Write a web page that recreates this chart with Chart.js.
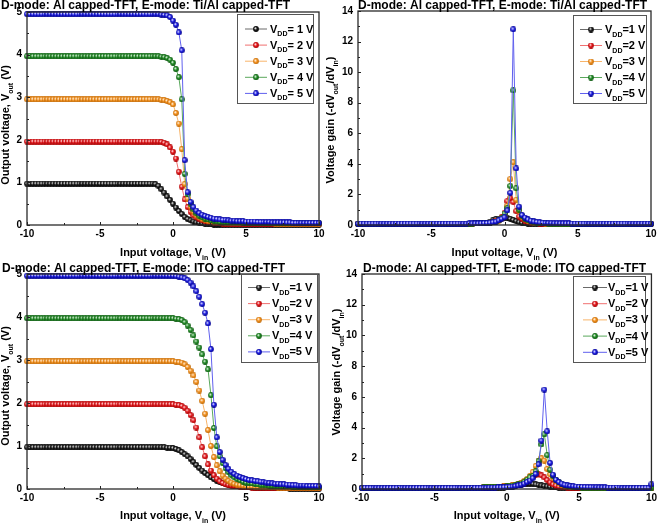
<!DOCTYPE html>
<html>
<head>
<meta charset="utf-8">
<title>Inverter transfer curves and voltage gain</title>
<script src="https://cdn.jsdelivr.net/npm/chart.js@4.4.1/dist/chart.umd.min.js"></script>
<style>
  body { margin: 0; background: #fff; }
  #wrap { position: relative; width: 660px; height: 525px; overflow: hidden; }
  canvas { position: absolute; }
</style>
</head>
<body>
<div id="wrap">
  <canvas id="vtcTiAl" width="330" height="262" style="left:0px;top:0px"></canvas>
  <canvas id="gainTiAl" width="342" height="262" style="left:318px;top:0px"></canvas>
  <canvas id="vtcIto" width="330" height="263" style="left:0px;top:262px"></canvas>
  <canvas id="gainIto" width="342" height="263" style="left:318px;top:262px"></canvas>
</div>
<script>
// input voltage sweep (V)
const vin = [
  -10, -9.8, -9.6, -9.4, -9.2, -9, -8.8, -8.6, -8.4, -8.2,
  -8, -7.8, -7.6, -7.4, -7.2, -7, -6.8, -6.6, -6.4, -6.2,
  -6, -5.8, -5.6, -5.4, -5.2, -5, -4.8, -4.6, -4.4, -4.2,
  -4, -3.8, -3.6, -3.4, -3.2, -3, -2.8, -2.6, -2.4, -2.2,
  -2, -1.8, -1.6, -1.4, -1.2, -1, -0.8, -0.6, -0.4, -0.2,
  0, 0.2, 0.4, 0.6, 0.8, 1, 1.2, 1.4, 1.6, 1.8,
  2, 2.2, 2.4, 2.6, 2.8, 3, 3.2, 3.4, 3.6, 3.8,
  4, 4.2, 4.4, 4.6, 4.8, 5, 5.2, 5.4, 5.6, 5.8,
  6, 6.2, 6.4, 6.6, 6.8, 7, 7.2, 7.4, 7.6, 7.8,
  8, 8.2, 8.4, 8.6, 8.8, 9, 9.2, 9.4, 9.6, 9.8,
  10
];

const vddLabels = ['1', '2', '3', '4', '5'];
const xTicks = [-10, -5, 0, 5, 10];
const voutTicks = [0, 1, 2, 3, 4, 5];
const gainTicks = [0, 2, 4, 6, 8, 10, 12, 14];

// E-mode Ti/Al capped TFT : Vout (V)
const voutTiAl1 = [
  0.97, 0.97, 0.97, 0.97, 0.97, 0.97, 0.97, 0.97, 0.97, 0.97,
  0.97, 0.97, 0.97, 0.97, 0.97, 0.97, 0.97, 0.97, 0.97, 0.97,
  0.97, 0.97, 0.97, 0.97, 0.97, 0.97, 0.97, 0.97, 0.97, 0.97,
  0.97, 0.97, 0.97, 0.97, 0.97, 0.97, 0.97, 0.97, 0.97, 0.97,
  0.97, 0.97, 0.97, 0.97, 0.96, 0.92, 0.84, 0.76, 0.67, 0.59,
  0.5, 0.41, 0.33, 0.26, 0.19, 0.14, 0.11, 0.08, 0.06, 0.05,
  0.04, 0.03, 0.02, 0.02, 0.01, 0.01, 0.01, 0.01, 0.01, 0.01,
  0.01, 0.01, 0.01, 0.01, 0.01, 0.01, 0.01, 0.01, 0.01, 0.01,
  0.01, 0.01, 0.01, 0.01, 0.01, 0.01, 0.01, 0.01, 0.01, 0.01,
  0.01, 0.01, 0.01, 0.01, 0.01, 0.01, 0.01, 0.01, 0.01, 0.01,
  0.01
];
const voutTiAl2 = [
  1.96, 1.96, 1.96, 1.96, 1.96, 1.96, 1.96, 1.96, 1.96, 1.96,
  1.96, 1.96, 1.96, 1.96, 1.96, 1.96, 1.96, 1.96, 1.96, 1.96,
  1.96, 1.96, 1.96, 1.96, 1.96, 1.96, 1.96, 1.96, 1.96, 1.96,
  1.96, 1.96, 1.96, 1.96, 1.96, 1.96, 1.96, 1.96, 1.96, 1.96,
  1.96, 1.96, 1.96, 1.96, 1.96, 1.96, 1.95, 1.93, 1.89, 1.82,
  1.72, 1.56, 1.25, 0.9, 0.6, 0.42, 0.31, 0.23, 0.18, 0.14,
  0.11, 0.09, 0.07, 0.06, 0.05, 0.04, 0.04, 0.03, 0.03, 0.03,
  0.02, 0.02, 0.02, 0.02, 0.02, 0.02, 0.02, 0.02, 0.02, 0.02,
  0.02, 0.02, 0.02, 0.02, 0.02, 0.02, 0.02, 0.02, 0.02, 0.02,
  0.02, 0.02, 0.02, 0.02, 0.02, 0.02, 0.02, 0.02, 0.02, 0.02,
  0.02
];
const voutTiAl3 = [
  2.95, 2.95, 2.95, 2.95, 2.95, 2.95, 2.95, 2.95, 2.95, 2.95,
  2.95, 2.95, 2.95, 2.95, 2.95, 2.95, 2.95, 2.95, 2.95, 2.95,
  2.95, 2.95, 2.95, 2.95, 2.95, 2.95, 2.95, 2.95, 2.95, 2.95,
  2.95, 2.95, 2.95, 2.95, 2.95, 2.95, 2.95, 2.95, 2.95, 2.95,
  2.95, 2.95, 2.95, 2.95, 2.95, 2.95, 2.94, 2.93, 2.91, 2.88,
  2.83, 2.63, 2.38, 1.78, 0.96, 0.62, 0.43, 0.31, 0.23, 0.18,
  0.14, 0.12, 0.1, 0.09, 0.08, 0.07, 0.06, 0.06, 0.05, 0.05,
  0.04, 0.04, 0.04, 0.04, 0.04, 0.04, 0.04, 0.04, 0.04, 0.04,
  0.04, 0.04, 0.04, 0.04, 0.04, 0.03, 0.03, 0.03, 0.03, 0.03,
  0.03, 0.03, 0.03, 0.03, 0.03, 0.03, 0.03, 0.03, 0.03, 0.03,
  0.03
];
const voutTiAl4 = [
  3.96, 3.96, 3.96, 3.96, 3.96, 3.96, 3.96, 3.96, 3.96, 3.96,
  3.96, 3.96, 3.96, 3.96, 3.96, 3.96, 3.96, 3.96, 3.96, 3.96,
  3.96, 3.96, 3.96, 3.96, 3.96, 3.96, 3.96, 3.96, 3.96, 3.96,
  3.96, 3.96, 3.96, 3.96, 3.96, 3.96, 3.96, 3.96, 3.96, 3.96,
  3.96, 3.96, 3.96, 3.96, 3.96, 3.96, 3.95, 3.94, 3.92, 3.88,
  3.81, 3.66, 3.47, 2.95, 1.2, 0.72, 0.5, 0.37, 0.28, 0.22,
  0.18, 0.15, 0.13, 0.11, 0.1, 0.09, 0.08, 0.08, 0.07, 0.07,
  0.06, 0.06, 0.06, 0.06, 0.05, 0.05, 0.05, 0.05, 0.05, 0.05,
  0.05, 0.05, 0.05, 0.05, 0.05, 0.05, 0.05, 0.05, 0.05, 0.05,
  0.04, 0.04, 0.04, 0.04, 0.04, 0.04, 0.04, 0.04, 0.04, 0.04,
  0.04
];
const voutTiAl5 = [
  4.95, 4.95, 4.95, 4.95, 4.95, 4.95, 4.95, 4.95, 4.95, 4.95,
  4.95, 4.95, 4.95, 4.95, 4.95, 4.95, 4.95, 4.95, 4.95, 4.95,
  4.95, 4.95, 4.95, 4.95, 4.95, 4.95, 4.95, 4.95, 4.95, 4.95,
  4.95, 4.95, 4.95, 4.95, 4.95, 4.95, 4.95, 4.95, 4.95, 4.95,
  4.95, 4.95, 4.95, 4.95, 4.95, 4.95, 4.94, 4.93, 4.92, 4.88,
  4.8, 4.7, 4.52, 4.1, 1.52, 0.77, 0.54, 0.42, 0.34, 0.28,
  0.24, 0.21, 0.19, 0.17, 0.15, 0.14, 0.13, 0.12, 0.12, 0.11,
  0.1, 0.1, 0.09, 0.09, 0.09, 0.08, 0.08, 0.08, 0.08, 0.07,
  0.07, 0.07, 0.07, 0.07, 0.06, 0.06, 0.06, 0.06, 0.06, 0.06,
  0.06, 0.05, 0.05, 0.05, 0.05, 0.05, 0.05, 0.05, 0.05, 0.05,
  0.05
];

// E-mode Ti/Al capped TFT : gain (-dVout/dVin)
const gainTiAl1 = [
  0.07, 0.07, 0.07, 0.07, 0.07, 0.07, 0.07, 0.07, 0.07, 0.07,
  0.07, 0.07, 0.07, 0.07, 0.07, 0.07, 0.07, 0.07, 0.07, 0.07,
  0.07, 0.07, 0.07, 0.07, 0.07, 0.07, 0.07, 0.07, 0.07, 0.07,
  0.07, 0.07, 0.07, 0.07, 0.07, 0.08, 0.08, 0.08, 0.09, 0.09,
  0.1, 0.1, 0.11, 0.12, 0.15, 0.22, 0.3, 0.38, 0.42, 0.45,
  0.47, 0.45, 0.4, 0.33, 0.25, 0.18, 0.14, 0.11, 0.09, 0.08,
  0.07, 0.07, 0.07, 0.07, 0.07, 0.07, 0.07, 0.07, 0.07, 0.07,
  0.07, 0.07, 0.07, 0.07, 0.07, 0.07, 0.07, 0.07, 0.07, 0.07,
  0.07, 0.07, 0.07, 0.07, 0.07, 0.07, 0.07, 0.07, 0.07, 0.07,
  0.07, 0.07, 0.07, 0.07, 0.07, 0.07, 0.07, 0.07, 0.07, 0.07,
  0.07
];
const gainTiAl2 = [
  0.08, 0.08, 0.08, 0.08, 0.08, 0.08, 0.08, 0.08, 0.08, 0.08,
  0.08, 0.08, 0.08, 0.08, 0.08, 0.08, 0.08, 0.08, 0.08, 0.08,
  0.08, 0.08, 0.08, 0.08, 0.08, 0.08, 0.08, 0.08, 0.08, 0.08,
  0.08, 0.08, 0.08, 0.08, 0.08, 0.08, 0.08, 0.08, 0.09, 0.09,
  0.1, 0.1, 0.11, 0.12, 0.13, 0.15, 0.2, 0.27, 0.35, 0.5,
  0.8, 1.55, 1.75, 1.5, 0.9, 0.55, 0.4, 0.28, 0.2, 0.15,
  0.12, 0.1, 0.09, 0.08, 0.08, 0.08, 0.08, 0.08, 0.08, 0.08,
  0.08, 0.08, 0.08, 0.08, 0.08, 0.08, 0.08, 0.08, 0.08, 0.08,
  0.08, 0.08, 0.08, 0.08, 0.08, 0.08, 0.08, 0.08, 0.08, 0.08,
  0.08, 0.08, 0.08, 0.08, 0.08, 0.08, 0.08, 0.08, 0.08, 0.08,
  0.08
];
const gainTiAl3 = [
  0.08, 0.08, 0.08, 0.08, 0.08, 0.08, 0.08, 0.08, 0.08, 0.08,
  0.08, 0.08, 0.08, 0.08, 0.08, 0.08, 0.08, 0.08, 0.08, 0.08,
  0.08, 0.08, 0.08, 0.08, 0.08, 0.08, 0.08, 0.08, 0.08, 0.08,
  0.08, 0.08, 0.08, 0.08, 0.08, 0.08, 0.08, 0.08, 0.09, 0.09,
  0.1, 0.1, 0.11, 0.12, 0.13, 0.15, 0.18, 0.22, 0.28, 0.4,
  0.6, 1.25, 3.0, 4.1, 1.65, 0.9, 0.55, 0.38, 0.27, 0.2,
  0.16, 0.13, 0.11, 0.1, 0.09, 0.09, 0.08, 0.08, 0.08, 0.08,
  0.08, 0.08, 0.08, 0.08, 0.08, 0.08, 0.08, 0.08, 0.08, 0.08,
  0.08, 0.08, 0.08, 0.08, 0.08, 0.08, 0.08, 0.08, 0.08, 0.08,
  0.08, 0.08, 0.08, 0.08, 0.08, 0.08, 0.08, 0.08, 0.08, 0.08,
  0.08
];
const gainTiAl4 = [
  0.08, 0.08, 0.08, 0.08, 0.08, 0.08, 0.08, 0.08, 0.08, 0.08,
  0.08, 0.08, 0.08, 0.08, 0.08, 0.08, 0.08, 0.08, 0.08, 0.08,
  0.08, 0.08, 0.08, 0.08, 0.08, 0.08, 0.08, 0.08, 0.08, 0.08,
  0.08, 0.08, 0.08, 0.08, 0.08, 0.08, 0.08, 0.08, 0.09, 0.09,
  0.1, 0.1, 0.11, 0.12, 0.13, 0.15, 0.18, 0.22, 0.3, 0.45,
  0.75, 1.1, 2.55, 8.8, 2.4, 1.0, 0.6, 0.42, 0.3, 0.23,
  0.18, 0.15, 0.13, 0.11, 0.1, 0.09, 0.09, 0.08, 0.08, 0.08,
  0.08, 0.08, 0.08, 0.08, 0.08, 0.08, 0.08, 0.08, 0.08, 0.08,
  0.08, 0.08, 0.08, 0.08, 0.08, 0.08, 0.08, 0.08, 0.08, 0.08,
  0.08, 0.08, 0.08, 0.08, 0.08, 0.08, 0.08, 0.08, 0.08, 0.08,
  0.08
];
const gainTiAl5 = [
  0.09, 0.09, 0.09, 0.09, 0.09, 0.09, 0.09, 0.09, 0.09, 0.09,
  0.09, 0.09, 0.09, 0.09, 0.09, 0.09, 0.09, 0.09, 0.09, 0.09,
  0.09, 0.09, 0.09, 0.09, 0.09, 0.09, 0.09, 0.09, 0.09, 0.09,
  0.09, 0.09, 0.09, 0.09, 0.09, 0.09, 0.09, 0.09, 0.1, 0.1,
  0.1, 0.1, 0.11, 0.12, 0.13, 0.15, 0.18, 0.22, 0.3, 0.4,
  0.5, 0.95, 2.1, 12.8, 3.7, 1.2, 0.65, 0.48, 0.36, 0.28,
  0.23, 0.2, 0.17, 0.15, 0.14, 0.13, 0.12, 0.11, 0.11, 0.1,
  0.1, 0.1, 0.1, 0.09, 0.09, 0.09, 0.09, 0.09, 0.09, 0.09,
  0.09, 0.09, 0.09, 0.09, 0.09, 0.09, 0.09, 0.09, 0.09, 0.09,
  0.09, 0.09, 0.09, 0.09, 0.09, 0.09, 0.09, 0.09, 0.09, 0.09,
  0.09
];

// E-mode ITO capped TFT : Vout (V)
const voutIto1 = [
  0.97, 0.97, 0.97, 0.97, 0.97, 0.97, 0.97, 0.97, 0.97, 0.97,
  0.97, 0.97, 0.97, 0.97, 0.97, 0.97, 0.97, 0.97, 0.97, 0.97,
  0.97, 0.97, 0.97, 0.97, 0.97, 0.97, 0.97, 0.97, 0.97, 0.97,
  0.97, 0.97, 0.97, 0.97, 0.97, 0.97, 0.97, 0.97, 0.97, 0.97,
  0.97, 0.97, 0.97, 0.97, 0.97, 0.97, 0.97, 0.97, 0.96, 0.96,
  0.95, 0.93, 0.9, 0.86, 0.81, 0.76, 0.7, 0.63, 0.56, 0.49,
  0.43, 0.37, 0.32, 0.27, 0.23, 0.19, 0.16, 0.14, 0.12, 0.1,
  0.09, 0.08, 0.07, 0.06, 0.05, 0.05, 0.04, 0.04, 0.03, 0.03,
  0.03, 0.03, 0.02, 0.02, 0.02, 0.02, 0.02, 0.02, 0.02, 0.02,
  0.01, 0.01, 0.01, 0.01, 0.01, 0.01, 0.01, 0.01, 0.01, 0.01,
  0.01
];
const voutIto2 = [
  1.97, 1.97, 1.97, 1.97, 1.97, 1.97, 1.97, 1.97, 1.97, 1.97,
  1.97, 1.97, 1.97, 1.97, 1.97, 1.97, 1.97, 1.97, 1.97, 1.97,
  1.97, 1.97, 1.97, 1.97, 1.97, 1.97, 1.97, 1.97, 1.97, 1.97,
  1.97, 1.97, 1.97, 1.97, 1.97, 1.97, 1.97, 1.97, 1.97, 1.97,
  1.97, 1.97, 1.97, 1.97, 1.97, 1.97, 1.97, 1.97, 1.97, 1.97,
  1.97, 1.96, 1.95, 1.93, 1.89, 1.82, 1.72, 1.6, 1.43, 1.2,
  0.97, 0.76, 0.57, 0.43, 0.32, 0.24, 0.18, 0.14, 0.11, 0.09,
  0.08, 0.07, 0.06, 0.05, 0.05, 0.04, 0.04, 0.03, 0.03, 0.03,
  0.03, 0.03, 0.02, 0.02, 0.02, 0.02, 0.02, 0.02, 0.02, 0.02,
  0.02, 0.02, 0.02, 0.02, 0.02, 0.02, 0.02, 0.02, 0.02, 0.02,
  0.02
];
const voutIto3 = [
  2.97, 2.97, 2.97, 2.97, 2.97, 2.97, 2.97, 2.97, 2.97, 2.97,
  2.97, 2.97, 2.97, 2.97, 2.97, 2.97, 2.97, 2.97, 2.97, 2.97,
  2.97, 2.97, 2.97, 2.97, 2.97, 2.97, 2.97, 2.97, 2.97, 2.97,
  2.97, 2.97, 2.97, 2.97, 2.97, 2.97, 2.97, 2.97, 2.97, 2.97,
  2.97, 2.97, 2.97, 2.97, 2.97, 2.97, 2.97, 2.97, 2.97, 2.97,
  2.97, 2.96, 2.95, 2.94, 2.9, 2.84, 2.75, 2.64, 2.49, 2.29,
  2.05, 1.75, 1.37, 1.0, 0.74, 0.55, 0.41, 0.31, 0.24, 0.19,
  0.15, 0.12, 0.1, 0.09, 0.08, 0.07, 0.06, 0.06, 0.05, 0.05,
  0.05, 0.04, 0.04, 0.04, 0.04, 0.04, 0.03, 0.03, 0.03, 0.03,
  0.03, 0.03, 0.03, 0.03, 0.03, 0.03, 0.03, 0.03, 0.03, 0.03,
  0.03
];
const voutIto4 = [
  3.97, 3.97, 3.97, 3.97, 3.97, 3.97, 3.97, 3.97, 3.97, 3.97,
  3.97, 3.97, 3.97, 3.97, 3.97, 3.97, 3.97, 3.97, 3.97, 3.97,
  3.97, 3.97, 3.97, 3.97, 3.97, 3.97, 3.97, 3.97, 3.97, 3.97,
  3.97, 3.97, 3.97, 3.97, 3.97, 3.97, 3.97, 3.97, 3.97, 3.97,
  3.97, 3.97, 3.97, 3.97, 3.97, 3.97, 3.97, 3.97, 3.97, 3.97,
  3.97, 3.96, 3.95, 3.93, 3.88, 3.8, 3.7, 3.57, 3.43, 3.29,
  3.13, 2.96, 2.78, 2.18, 1.42, 0.99, 0.76, 0.6, 0.48, 0.39,
  0.32, 0.27, 0.23, 0.2, 0.17, 0.15, 0.14, 0.13, 0.12, 0.11,
  0.1, 0.09, 0.09, 0.08, 0.08, 0.07, 0.07, 0.07, 0.06, 0.06,
  0.06, 0.05, 0.05, 0.05, 0.05, 0.05, 0.04, 0.04, 0.04, 0.04,
  0.04
];
const voutIto5 = [
  4.96, 4.96, 4.96, 4.96, 4.96, 4.96, 4.96, 4.96, 4.96, 4.96,
  4.96, 4.96, 4.96, 4.96, 4.96, 4.96, 4.96, 4.96, 4.96, 4.96,
  4.96, 4.96, 4.96, 4.96, 4.96, 4.96, 4.96, 4.96, 4.96, 4.96,
  4.96, 4.96, 4.96, 4.96, 4.96, 4.96, 4.96, 4.96, 4.96, 4.96,
  4.96, 4.96, 4.96, 4.96, 4.96, 4.96, 4.96, 4.96, 4.96, 4.96,
  4.96, 4.95, 4.94, 4.92, 4.9, 4.86, 4.8, 4.71, 4.6, 4.47,
  4.3, 4.1, 3.85, 3.25, 1.96, 1.2, 0.86, 0.68, 0.56, 0.47,
  0.4, 0.35, 0.31, 0.28, 0.25, 0.23, 0.21, 0.2, 0.19, 0.18,
  0.17, 0.16, 0.15, 0.14, 0.13, 0.12, 0.12, 0.11, 0.11, 0.1,
  0.1, 0.09, 0.09, 0.08, 0.08, 0.08, 0.07, 0.07, 0.07, 0.07,
  0.06
];

// E-mode ITO capped TFT : gain (-dVout/dVin)
const gainIto1 = [
  0.07, 0.07, 0.07, 0.07, 0.07, 0.07, 0.07, 0.07, 0.07, 0.07,
  0.07, 0.07, 0.07, 0.07, 0.07, 0.07, 0.07, 0.07, 0.07, 0.07,
  0.07, 0.07, 0.07, 0.07, 0.07, 0.07, 0.07, 0.07, 0.07, 0.07,
  0.07, 0.07, 0.07, 0.07, 0.07, 0.07, 0.07, 0.07, 0.07, 0.07,
  0.07, 0.07, 0.07, 0.07, 0.08, 0.08, 0.08, 0.08, 0.09, 0.09,
  0.1, 0.12, 0.15, 0.2, 0.25, 0.28, 0.32, 0.35, 0.35, 0.33,
  0.3, 0.27, 0.23, 0.2, 0.17, 0.15, 0.12, 0.1, 0.09, 0.08,
  0.08, 0.07, 0.07, 0.07, 0.07, 0.07, 0.07, 0.07, 0.07, 0.07,
  0.07, 0.07, 0.07, 0.07, 0.07, 0.07, 0.07, 0.07, 0.07, 0.07,
  0.07, 0.07, 0.07, 0.07, 0.07, 0.07, 0.07, 0.07, 0.07, 0.07,
  0.07
];
const gainIto2 = [
  0.08, 0.08, 0.08, 0.08, 0.08, 0.08, 0.08, 0.08, 0.08, 0.08,
  0.08, 0.08, 0.08, 0.08, 0.08, 0.08, 0.08, 0.08, 0.08, 0.08,
  0.08, 0.08, 0.08, 0.08, 0.08, 0.08, 0.08, 0.08, 0.08, 0.08,
  0.08, 0.08, 0.08, 0.08, 0.08, 0.08, 0.08, 0.08, 0.08, 0.08,
  0.08, 0.09, 0.1, 0.1, 0.11, 0.12, 0.13, 0.14, 0.16, 0.18,
  0.2, 0.21, 0.23, 0.26, 0.3, 0.38, 0.48, 0.6, 0.72, 0.82,
  0.9, 0.95, 0.88, 0.75, 0.58, 0.42, 0.3, 0.22, 0.16, 0.12,
  0.1, 0.09, 0.08, 0.08, 0.08, 0.08, 0.08, 0.08, 0.08, 0.08,
  0.08, 0.08, 0.08, 0.08, 0.08, 0.08, 0.08, 0.08, 0.08, 0.08,
  0.08, 0.08, 0.08, 0.08, 0.08, 0.08, 0.08, 0.08, 0.08, 0.08,
  0.08
];
const gainIto3 = [
  0.08, 0.08, 0.08, 0.08, 0.08, 0.08, 0.08, 0.08, 0.08, 0.08,
  0.08, 0.08, 0.08, 0.08, 0.08, 0.08, 0.08, 0.08, 0.08, 0.08,
  0.08, 0.08, 0.08, 0.08, 0.08, 0.08, 0.08, 0.08, 0.08, 0.08,
  0.08, 0.08, 0.08, 0.08, 0.08, 0.08, 0.08, 0.08, 0.08, 0.08,
  0.08, 0.09, 0.1, 0.1, 0.11, 0.12, 0.13, 0.14, 0.16, 0.18,
  0.2, 0.22, 0.25, 0.28, 0.33, 0.4, 0.5, 0.65, 0.85, 1.1,
  1.5, 1.85, 2.0, 1.85, 1.3, 0.95, 0.7, 0.5, 0.36, 0.27,
  0.2, 0.17, 0.14, 0.12, 0.11, 0.1, 0.09, 0.09, 0.08, 0.08,
  0.08, 0.08, 0.08, 0.08, 0.08, 0.08, 0.08, 0.08, 0.08, 0.08,
  0.08, 0.08, 0.08, 0.08, 0.08, 0.08, 0.08, 0.08, 0.08, 0.08,
  0.08
];
const gainIto4 = [
  0.08, 0.08, 0.08, 0.08, 0.08, 0.08, 0.08, 0.08, 0.08, 0.08,
  0.08, 0.08, 0.08, 0.08, 0.08, 0.08, 0.08, 0.08, 0.08, 0.08,
  0.08, 0.08, 0.08, 0.08, 0.08, 0.08, 0.08, 0.08, 0.08, 0.08,
  0.08, 0.08, 0.08, 0.08, 0.08, 0.08, 0.08, 0.08, 0.08, 0.08,
  0.08, 0.09, 0.1, 0.1, 0.11, 0.12, 0.13, 0.14, 0.15, 0.16,
  0.18, 0.2, 0.22, 0.25, 0.3, 0.35, 0.45, 0.6, 0.75, 0.85,
  1.15, 1.8, 2.9, 3.55, 2.2, 1.25, 0.85, 0.6, 0.45, 0.33,
  0.26, 0.21, 0.17, 0.14, 0.12, 0.1, 0.09, 0.09, 0.08, 0.08,
  0.08, 0.08, 0.08, 0.08, 0.08, 0.08, 0.08, 0.08, 0.08, 0.08,
  0.08, 0.08, 0.08, 0.08, 0.08, 0.08, 0.08, 0.08, 0.08, 0.08,
  0.08
];
const gainIto5 = [
  0.08, 0.08, 0.08, 0.08, 0.08, 0.08, 0.08, 0.08, 0.08, 0.08,
  0.08, 0.08, 0.08, 0.08, 0.08, 0.08, 0.08, 0.08, 0.08, 0.08,
  0.08, 0.08, 0.08, 0.08, 0.08, 0.08, 0.08, 0.08, 0.08, 0.08,
  0.08, 0.08, 0.08, 0.08, 0.08, 0.08, 0.08, 0.08, 0.08, 0.08,
  0.08, 0.08, 0.08, 0.08, 0.09, 0.09, 0.09, 0.1, 0.1, 0.11,
  0.12, 0.14, 0.16, 0.19, 0.23, 0.28, 0.35, 0.45, 0.55, 0.7,
  0.98, 1.6, 3.15, 6.47, 3.75, 1.7, 0.93, 0.6, 0.45, 0.35,
  0.28, 0.24, 0.2, 0.18, 0.16, 0.15, 0.14, 0.13, 0.12, 0.12,
  0.11, 0.11, 0.1, 0.1, 0.1, 0.09, 0.09, 0.09, 0.09, 0.09,
  0.08, 0.08, 0.08, 0.08, 0.08, 0.08, 0.08, 0.08, 0.08, 0.08,
  0.3
];

// styling
const ballColors = ['#1a1a1a', '#e8161b', '#f7931e', '#1f8d24', '#1a1ae6'];
const ballDark = ['#000000', '#9a0000', '#b35f00', '#0b4f0e', '#00007a'];
const lineColors = ['#6a6a6a', '#f07070', '#f8b46a', '#5aa85c', '#6060ee'];
const FONT = '"Liberation Sans", Arial, sans-serif';

function sphere(base, dark) {
  const c = document.createElement('canvas');
  c.width = 6;
  c.height = 6;
  const g = c.getContext('2d');
  const grad = g.createRadialGradient(2.2, 2.1, 0.2, 3, 3, 3.2);
  grad.addColorStop(0, '#ffffff');
  grad.addColorStop(0.45, base);
  grad.addColorStop(1, dark);
  g.fillStyle = grad;
  g.beginPath();
  g.arc(3, 3, 2.9, 0, Math.PI * 2);
  g.fill();
  return c;
}
const balls = ballColors.map((c, i) => sphere(c, ballDark[i]));

// text with subscripts: parts = [[text, isSub], ...]
function richText(ctx, parts, x, y, size, align) {
  const sub = Math.round(size * 0.62);
  let w = 0;
  parts.forEach(p => {
    ctx.font = 'bold ' + (p[1] ? sub : size) + 'px ' + FONT;
    w += ctx.measureText(p[0]).width;
  });
  let cx = align === 'center' ? x - w / 2 : x;
  ctx.textAlign = 'left';
  ctx.textBaseline = 'alphabetic';
  parts.forEach(p => {
    ctx.font = 'bold ' + (p[1] ? sub : size) + 'px ' + FONT;
    ctx.fillText(p[0], cx, y + (p[1] ? size * 0.32 : 0));
    cx += ctx.measureText(p[0]).width;
  });
}

const xTitle = [['Input voltage, V', 0], ['in', 1], [' (V)', 0]];
const voutTitle = [['Output voltage, V', 0], ['out', 1], [' (V)', 0]];
const gainTitle = [['Voltage gain (-dV', 0], ['out', 1], ['/dV', 0], ['in', 1], [')', 0]];

function panel(p) {
  const canvas = document.getElementById(p.id);
  const ox = p.left, oy = p.top;
  const W = canvas.width, H = canvas.height;

  const decor = {
    id: 'decor',
    afterDraw(chart) {
      const ctx = chart.ctx, a = chart.chartArea;
      const xs = chart.scales.x, ys = chart.scales.y;
      ctx.save();
      ctx.fillStyle = '#000';
      ctx.strokeStyle = '#222';

      // inward ticks, major and minor
      ctx.lineWidth = 1;
      ctx.beginPath();
      xTicks.forEach((v, i) => {
        const px = Math.round(xs.getPixelForValue(v)) + 0.5;
        ctx.moveTo(px, a.bottom);
        ctx.lineTo(px, a.bottom - 3);
        if (i < xTicks.length - 1) {
          const mx = Math.round(xs.getPixelForValue((v + xTicks[i + 1]) / 2)) + 0.5;
          ctx.moveTo(mx, a.bottom);
          ctx.lineTo(mx, a.bottom - 2);
        }
      });
      p.yTicks.forEach((v, i) => {
        const py = Math.round(ys.getPixelForValue(v)) + 0.5;
        ctx.moveTo(a.left, py);
        ctx.lineTo(a.left + 3, py);
        if (i < p.yTicks.length - 1) {
          const my = Math.round(ys.getPixelForValue((v + p.yTicks[i + 1]) / 2)) + 0.5;
          ctx.moveTo(a.left, my);
          ctx.lineTo(a.left + 2, my);
        }
      });
      ctx.stroke();

      // frame
      ctx.lineWidth = 1.3;
      ctx.strokeStyle = '#2a2a2a';
      ctx.strokeRect(a.left, a.top, a.right - a.left, a.bottom - a.top);

      // title
      ctx.font = 'bold 12px ' + FONT;
      ctx.textAlign = 'left';
      ctx.textBaseline = 'alphabetic';
      ctx.fillText(p.title, p.titleX - ox, p.titleY - oy);

      // axis titles
      richText(ctx, xTitle, (a.left + a.right) / 2, p.xTitleY - oy, 11, 'center');
      ctx.save();
      ctx.translate(p.yTitleX - ox, p.yTitleY - oy);
      ctx.rotate(-Math.PI / 2);
      richText(ctx, p.yTitle, 0, 0, 11, 'center');
      ctx.restore();

      // legend
      const L = p.legend;
      ctx.fillStyle = '#fff';
      ctx.fillRect(L.x - ox, L.y - oy, L.w, L.h);
      ctx.lineWidth = 1;
      ctx.strokeStyle = '#555';
      ctx.strokeRect(L.x - ox + 0.5, L.y - oy + 0.5, L.w, L.h);
      vddLabels.forEach((v, i) => {
        const y = L.y0 + i * L.dy - oy;
        ctx.strokeStyle = lineColors[i];
        ctx.beginPath();
        ctx.moveTo(L.lx0 - ox, y + 0.5);
        ctx.lineTo(L.lx1 - ox, y + 0.5);
        ctx.stroke();
        const cx = (L.lx0 + L.lx1) / 2 - ox;
        ctx.drawImage(balls[i], cx - 3, y - 2.5);
        ctx.fillStyle = '#000';
        richText(ctx, [['V', 0], ['DD', 1], [L.sep + v + ' V', 0]], L.tx - ox, y + 4, 11, 'left');
      });
      ctx.restore();
    }
  };

  const tickFont = { family: FONT, size: 10, weight: 'bold' };

  new Chart(canvas, {
    type: 'line',
    data: {
      datasets: p.series.map((s, i) => ({
        label: 'VDD=' + vddLabels[i] + ' V',
        data: vin.map((v, k) => ({ x: v, y: s[k] })),
        borderColor: lineColors[i],
        backgroundColor: ballColors[i],
        borderWidth: 1,
        pointStyle: balls[i],
        pointRadius: 3,
        order: 5 - i,
        clip: 4
      }))
    },
    options: {
      responsive: false,
      animation: false,
      events: [],
      layout: { padding: { left: 0, top: p.area.T - oy, right: ox + W - p.area.R, bottom: 0 } },
      plugins: { legend: { display: false }, tooltip: { enabled: false } },
      scales: {
        x: {
          type: 'linear',
          min: -10,
          max: 10,
          afterBuildTicks: s => { s.ticks = xTicks.map(v => ({ value: v })); },
          afterFit: s => { s.height = oy + H - p.area.B; },
          grid: { display: false, drawTicks: false },
          border: { display: false },
          ticks: { color: '#000', padding: 3, maxRotation: 0, autoSkip: false, font: tickFont }
        },
        y: {
          type: 'linear',
          min: 0,
          max: p.yMax,
          afterBuildTicks: s => { s.ticks = p.yTicks.map(v => ({ value: v })); },
          afterFit: s => { s.width = p.area.L - ox; },
          grid: { display: false, drawTicks: false },
          border: { display: false },
          ticks: { color: '#000', padding: 5, font: tickFont }
        }
      }
    },
    plugins: [decor]
  });
}

panel({
  id: 'vtcTiAl', left: 0, top: 0,
  area: { L: 27, T: 12, R: 319, B: 225 },
  series: [voutTiAl1, voutTiAl2, voutTiAl3, voutTiAl4, voutTiAl5],
  yMax: 5, yTicks: voutTicks, yTitle: voutTitle,
  title: 'D-mode: Al capped-TFT, E-mode: Ti/Al capped-TFT', titleX: 1, titleY: 8.5,
  xTitleY: 256, yTitleX: 9, yTitleY: 125,
  legend: { x: 237, y: 14, w: 76, h: 89, y0: 28.5, dy: 16.1, lx0: 245, lx1: 267, tx: 270, sep: '= ' }
});

panel({
  id: 'gainTiAl', left: 318, top: 0,
  area: { L: 358, T: 11, R: 651, B: 225 },
  series: [gainTiAl1, gainTiAl2, gainTiAl3, gainTiAl4, gainTiAl5],
  yMax: 14, yTicks: gainTicks, yTitle: gainTitle,
  title: 'D-mode: Al capped-TFT, E-mode: Ti/Al capped-TFT', titleX: 358, titleY: 8.5,
  xTitleY: 256, yTitleX: 334, yTitleY: 120,
  legend: { x: 573, y: 15, w: 73, h: 88, y0: 29, dy: 16, lx0: 580, lx1: 602, tx: 605, sep: '=' }
});

panel({
  id: 'vtcIto', left: 0, top: 262,
  area: { L: 27, T: 274, R: 319, B: 489 },
  series: [voutIto1, voutIto2, voutIto3, voutIto4, voutIto5],
  yMax: 5, yTicks: voutTicks, yTitle: voutTitle,
  title: 'D-mode: Al capped-TFT, E-mode: ITO capped-TFT', titleX: 2, titleY: 271.5,
  xTitleY: 519, yTitleX: 9, yTitleY: 386,
  legend: { x: 241, y: 274, w: 76, h: 88, y0: 287, dy: 16.1, lx0: 248, lx1: 270, tx: 272, sep: '=' }
});

panel({
  id: 'gainIto', left: 318, top: 262,
  area: { L: 362, T: 274, R: 655, B: 489 },
  series: [gainIto1, gainIto2, gainIto3, gainIto4, gainIto5],
  yMax: 14, yTicks: gainTicks, yTitle: gainTitle,
  title: 'D-mode: Al capped-TFT, E-mode: ITO capped-TFT', titleX: 363, titleY: 271.5,
  xTitleY: 519, yTitleX: 340, yTitleY: 372,
  legend: { x: 573, y: 276, w: 72, h: 86, y0: 287, dy: 16.2, lx0: 583, lx1: 607, tx: 608, sep: '=' }
});
</script>
</body>
</html>
